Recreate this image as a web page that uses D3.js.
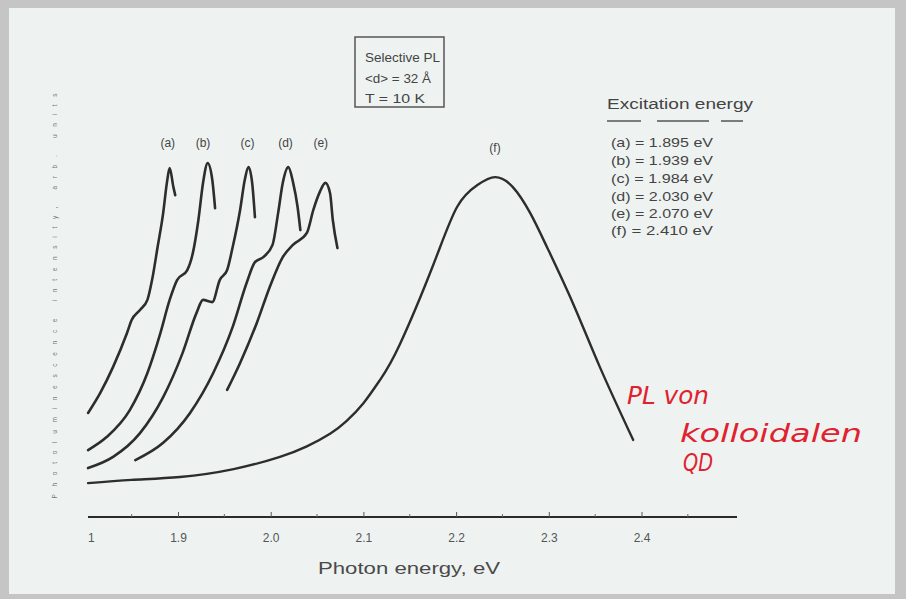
<!DOCTYPE html>
<html><head><meta charset="utf-8">
<script src="https://cdn.jsdelivr.net/npm/d3@7"></script>
<style>
html,body{margin:0;padding:0;background:#c4c5c4;}
svg{display:block;font-family:"Liberation Sans",Arial,sans-serif;}
</style></head>
<body>
<svg id="chart" width="906" height="599"></svg>
<script>
// ---- Data ----
const seriesNames = ["a","b","c","d","e","f"];
const excitation = [1.895, 1.939, 1.984, 2.030, 2.070, 2.410];
const energyA = [1.803,1.816,1.830,1.845,1.850,1.859,1.867,1.872,1.878,1.884,1.888,1.891,1.895,1.897];
const intensA = [28.9,34.4,41.7,51.1,54.7,57.5,60.3,65.8,75.0,84.4,92.8,96.9,91.7,89.4];
const energyB = [1.803,1.823,1.848,1.867,1.881,1.891,1.899,1.910,1.916,1.922,1.927,1.932,1.937,1.940];
const intensB = [18.6,22.2,29.7,40.0,51.1,60.3,65.8,68.6,73.3,82.5,92.8,98.3,93.6,85.8];
const energyC = [1.803,1.830,1.859,1.884,1.905,1.920,1.927,1.937,1.945,1.953,1.959,1.967,1.972,1.976,1.980,1.983];
const intensC = [13.6,16.7,23.3,33.3,45.6,56.7,60.3,59.7,65.8,68.6,75.0,85.3,93.6,97.2,92.8,83.3];
const energyD = [1.854,1.884,1.913,1.938,1.959,1.974,1.983,1.992,2.002,2.008,2.013,2.019,2.024,2.029,2.032];
const intensD = [15.8,20.6,28.9,40.0,52.8,65.0,70.8,72.2,75.6,84.4,92.8,97.2,93.1,86.1,79.7];
const energyE = [1.953,1.967,1.985,1.999,2.013,2.024,2.039,2.046,2.053,2.059,2.064,2.067,2.072];
const intensE = [35.3,42.8,53.9,63.9,72.2,75.6,78.9,85.3,90.3,92.8,90.0,82.5,74.7];
const energyF = [1.803,1.850,1.902,1.960,2.010,2.039,2.064,2.082,2.100,2.118,2.139,2.175,2.201,2.223,2.242,2.261,2.280,2.298,2.326,2.355,2.391];
const intensF = [9.4,10.3,11.1,13.3,16.7,19.6,23.1,26.7,31.6,38.1,47.8,69.8,86.1,92.2,94.4,91.7,84.4,75.0,59.4,41.7,21.4];
const majorTicks = [1.8,1.9,2.0,2.1,2.2,2.3,2.4];
const tickLabels = ["1","1.9","2.0","2.1","2.2","2.3","2.4"];
const minorTicks = [1.85,1.95,2.05,2.15,2.25,2.35,2.45];
const labelPeakE = [1.889,1.927,1.975,2.016,2.054,2.242];
const boxLines = ["Selective PL","<d> = 32 Å","T = 10 K"];
const noteLines = ["PL von","kolloidalen","QD"];

// ---- Drawing ----
const svg = d3.select("#chart");
svg.append("rect").attr("x",9).attr("y",8).attr("width",886).attr("height",586).attr("fill","#eef3f1");

const x = d3.scaleLinear().domain([1.8,2.5]).range([85.3,734.2]);
const y = d3.scaleLinear().domain([0,100]).range([517,157]);

// x axis
const axisY = 517;
svg.append("line").attr("x1",88).attr("x2",737).attr("y1",axisY).attr("y2",axisY)
  .attr("stroke","#2a2a2a").attr("stroke-width",2);
const ax = d3.axisBottom(x).tickValues(majorTicks).tickSize(-5)
  .tickFormat((d,i)=>tickLabels[i]);
const gAx = svg.append("g").attr("transform",`translate(0,${axisY})`).call(ax);
gAx.select(".domain").remove();
gAx.selectAll(".tick line").attr("stroke","#555").attr("stroke-width",1);
gAx.selectAll(".tick").filter(d=>d===1.8).select("line").remove();
gAx.selectAll(".tick").filter(d=>d===1.8).attr("transform",`translate(${x(1.8)+6},0)`);
gAx.selectAll(".tick text").attr("y",16).attr("font-size",12).attr("fill","#555")
  .attr("font-family","Liberation Sans, Arial, sans-serif");
svg.append("g").selectAll("line").data(minorTicks).join("line")
  .attr("x1",d=>x(d)).attr("x2",d=>x(d)).attr("y1",axisY).attr("y2",axisY-3)
  .attr("stroke","#666").attr("stroke-width",1);

svg.append("text").attr("x",409).attr("y",574).attr("text-anchor","middle")
  .attr("font-size",17).attr("fill","#4a4a4a")
  .attr("textLength",182).attr("lengthAdjust","spacingAndGlyphs")
  .text("Photon energy, eV");

// y-axis label (faint, scanned)
svg.append("text").attr("transform","translate(57,296) rotate(-90)")
  .attr("text-anchor","middle").attr("font-size",6.5).attr("fill","#777")
  .attr("textLength",405).attr("lengthAdjust","spacing")
  .text("Photoluminescence intensity, arb. units");

// curves
const energies = [energyA,energyB,energyC,energyD,energyE,energyF];
const intens = [intensA,intensB,intensC,intensD,intensE,intensF];
const line = d3.line().x(d=>x(d[0])).y(d=>y(d[1])).curve(d3.curveMonotoneX);
const lineSmooth = d3.line().x(d=>x(d[0])).y(d=>y(d[1])).curve(d3.curveNatural);
seriesNames.forEach((s,i)=>{
  const pts = energies[i].map((e,j)=>[e,intens[i][j]]);
  svg.append("path").datum(pts).attr("d",i===5?lineSmooth:line).attr("fill","none")
    .attr("stroke","#2d2d2d").attr("stroke-width",i===5?2.4:2.6)
    .attr("stroke-linejoin","round").attr("stroke-linecap","round");
});

// peak labels
const labelY = [143,143,143,143,143,148];
seriesNames.forEach((s,i)=>{
  svg.append("text").attr("x",x(labelPeakE[i])).attr("y",labelY[i]+4)
    .attr("text-anchor","middle").attr("font-size",12).attr("fill","#444")
    .text(`(${s})`);
});

// info box
svg.append("rect").attr("x",355).attr("y",37).attr("width",89).attr("height",70)
  .attr("fill","none").attr("stroke","#555").attr("stroke-width",1.5);
const boxW = [75,66,60];
boxLines.forEach((t,i)=>{
  svg.append("text").attr("x",365).attr("y",62+i*20.5).attr("font-size",13.5)
    .attr("fill","#444").attr("textLength",boxW[i]).attr("lengthAdjust","spacingAndGlyphs").text(t);
});

// legend
svg.append("text").attr("x",607).attr("y",109).attr("font-size",14).attr("fill","#444")
  .attr("textLength",146).attr("lengthAdjust","spacingAndGlyphs")
  .text("Excitation energy");
svg.append("line").attr("x1",607).attr("x2",752).attr("y1",121).attr("y2",121)
  .attr("stroke","#555").attr("stroke-width",1.3).attr("stroke-dasharray","34,16,52,12,22");
const legY = [147,165,183,201,218,235];
seriesNames.forEach((s,i)=>{
  svg.append("text").attr("x",611).attr("y",legY[i]).attr("font-size",13).attr("fill","#444")
    .attr("textLength",102).attr("lengthAdjust","spacingAndGlyphs")
    .text(`(${s}) = ${excitation[i].toFixed(3)} eV`);
});

// handwritten note
const note = svg.append("g").attr("fill","#e0222f").attr("font-style","italic")
  .attr("font-family","DejaVu Sans, sans-serif").attr("font-size",24);
const noteX = [627,680,683], noteY = [404,442,471], noteW = [82,182,30];
noteLines.forEach((t,i)=>{
  note.append("text").attr("x",noteX[i]).attr("y",noteY[i])
    .attr("textLength",noteW[i]).attr("lengthAdjust","spacingAndGlyphs").text(t);
});
</script>
</body></html>
